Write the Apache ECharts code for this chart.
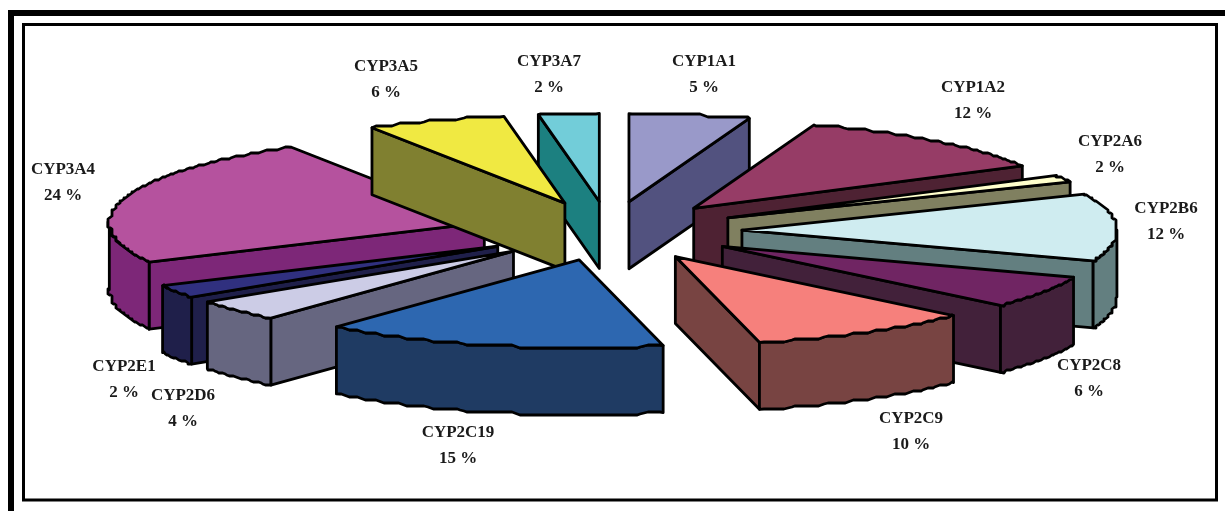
<!DOCTYPE html>
<html><head><meta charset="utf-8">
<style>html,body{margin:0;padding:0;background:#fff}#c{width:1225px;height:511px}</style>
<script src="https://cdn.jsdelivr.net/npm/echarts@6/dist/echarts.min.js"></script>
</head><body><div id="c"></div>
<script>
const categories = ['CYP1A1','CYP1A2','CYP2A6','CYP2B6','CYP2C8','CYP2C9','CYP2C19','CYP2D6','CYP2E1','CYP3A4','CYP3A5','CYP3A7'];
const sliceShares = [5.2,11.8,1.3,12.4,6,9.7,14.8,4,2.4,23.8,6,2.6];
const printedPercents = [5,12,2,12,6,10,15,4,2,24,6,2];
const topColors = ['#9999C9','#963C66','#FFFFCC','#CFECF0','#702563','#F6807C','#2D67B0','#CCCCE6','#30307F','#B5529E','#F0E942','#72CDD9'];
const sideColors = ['#52527F','#4E2233','#808060','#637F80','#42213A','#784442','#1F3B63','#666680','#1F1F4A','#7D2778','#808030','#1C8080'];
const drawOrder = [11,0,9,10,1,2,3,4,5,8,7,6];
const labelCenters = [[704,62],[973,88],[1110,142],[1166,209],[1089,366],[911,419],[458,433],[183,396],[124,367],[63,170],[386,67],[549,62]];

const CX=607, CY=231, RX=375, RY=88, EXPLODE_X=0.36, EXPLODE_X_LEFT=0.349, LEFT_SHIFT=3, EXPLODE_Y=0.337, DEPTH=67;
const total = sliceShares.reduce((a,b)=>a+b,0);
const starts=[]; let acc=0; sliceShares.forEach(v=>{starts.push(acc/total*360); acc+=v;});
const rad=d=>d*Math.PI/180;

function arc(cx,cy,a0,a1){
  const n=Math.max(2,Math.ceil((a1-a0)/0.5));
  const qx=4,qy=3,raw=[];
  for(let k=0;k<=n;k++){
    const a=a0+(a1-a0)*k/n;
    const x=cx+RX*Math.sin(rad(a)), y=cy-RY*Math.cos(rad(a));
    raw.push(k>0&&k<n?[Math.round(x/qx)*qx,Math.round(y/qy)*qy]:[x,y]);
  }
  return raw.map((p,k)=>{
    if(k<2||k>n-2)return p;
    return [(raw[k-1][0]+p[0]+raw[k+1][0])/3,(raw[k-1][1]+p[1]+raw[k+1][1])/3];
  });
}
const down=(p)=>p.map(q=>[q[0],q[1]+DEPTH]);
function poly(points,fill){
  return {type:'polygon',shape:{points},style:{fill,stroke:'#000',lineWidth:2.8,lineJoin:'round'}};
}
function renderItem(params,api){
  const i=api.value(0), v=api.value(1);
  const a0=starts[i], a1=a0+v/total*360, mid=(a0+a1)/2;
  const left=mid>180;
  const cx=CX+(left?LEFT_SHIFT:0)+RX*(left?EXPLODE_X_LEFT:EXPLODE_X)*Math.sin(rad(mid));
  const cy=CY-RY*EXPLODE_Y*Math.cos(rad(mid));
  const apex=[cx,cy], rim=arc(cx,cy,a0,a1), ch=[];
  const first=rim[0], last=rim[rim.length-1];
  if(a0>=180) ch.push(poly([apex,first,[first[0],first[1]+DEPTH],[apex[0],apex[1]+DEPTH]],sideColors[i]));
  if(a1<=180) ch.push(poly([apex,last,[last[0],last[1]+DEPTH],[apex[0],apex[1]+DEPTH]],sideColors[i]));
  const s=Math.max(a0,90), e=Math.min(a1,270);
  if(e>s){const r=arc(cx,cy,s,e); ch.push(poly(r.concat(down(r).reverse()),sideColors[i]));}
  ch.push(poly([apex].concat(rim),topColors[i]));
  return {type:'group',children:ch};
}
const font='"Liberation Serif",serif';
const labelGraphics=[];
categories.forEach((n,i)=>{
  const [x,y]=labelCenters[i];
  labelGraphics.push({type:'text',x,y,style:{text:n,fill:'#1a1a1a',font:'bold 17px '+font,textAlign:'center',textVerticalAlign:'middle'}});
  labelGraphics.push({type:'text',x,y:y+26,style:{text:printedPercents[i]+' %',fill:'#1a1a1a',font:'bold 17px '+font,textAlign:'center',textVerticalAlign:'middle'}});
});
const chart=echarts.init(document.getElementById('c'),null,{renderer:'canvas'});
chart.setOption({
  animation:false,
  backgroundColor:'#fff',
  graphic:[
    {type:'rect',shape:{x:8,y:10,width:6,height:501},style:{fill:'#000'}},
    {type:'rect',shape:{x:8,y:10,width:1217,height:6},style:{fill:'#000'}},
    {type:'rect',shape:{x:23.5,y:24.5,width:1193,height:475.5},style:{fill:'none',stroke:'#000',lineWidth:3}},
    ...labelGraphics
  ],
  series:[{type:'custom',coordinateSystem:'none',renderItem,silent:true,
    data:drawOrder.map(i=>[i,sliceShares[i]])}]
});
</script></body></html>
